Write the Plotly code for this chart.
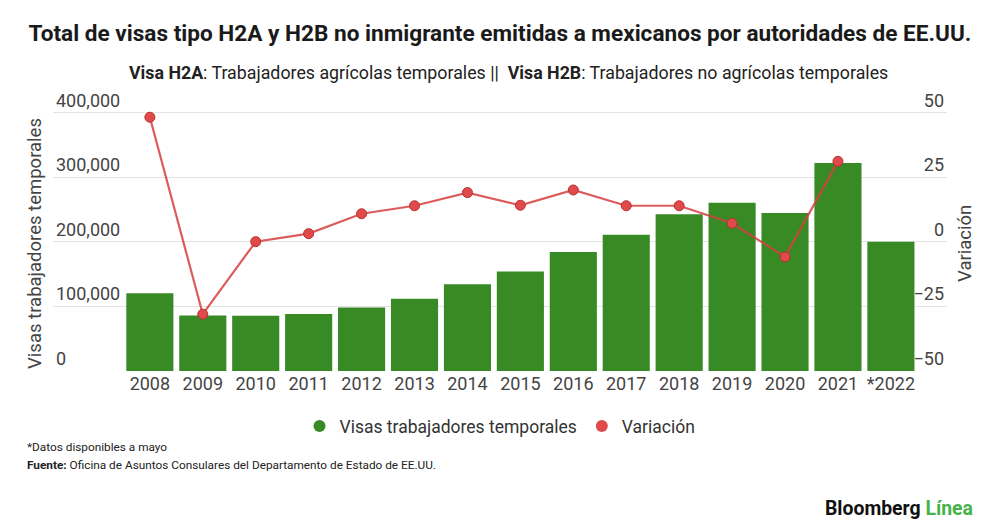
import plotly.graph_objects as go

# datos
years = ["2008", "2009", "2010", "2011", "2012", "2013", "2014", "2015",
         "2016", "2017", "2018", "2019", "2020", "2021", "*2022"]
visas = [120500, 85900, 85500, 88500, 98300, 111800, 134500, 154200,
         184200, 211100, 242700, 260800, 244800, 322400, 200300]
variacion = [48.3, -28.0, 0.1, 3.2, 10.9, 14.0, 19.1, 14.2,
             20.1, 14.0, 14.0, 7.2, -5.8, 31.2, None]

left_ticks = [0, 100000, 200000, 300000, 400000]
left_labels = ["0", "100,000", "200,000", "300,000", "400,000"]
right_ticks = [-50, -25, 0, 25, 50]

GREEN = "#378a24"
RED = "#e04a4a"
FONT = "Roboto, Noto Sans, sans-serif"

# la pagina tiene 8px de margen en el body, se compensa aqui
OFF = 8
W, H = 1000 - OFF, 532 - OFF
# area de trazado (coordenadas de la imagen de referencia)
PL, PR, PTOP, PBOT = 53, 947, 113, 371
EXTRA = 0.1  # espacio extra arriba para que quepa la etiqueta superior
plot_h = (PBOT - PTOP) * (1 + EXTRA)
L = PL - OFF
R = W - (PR - OFF)
B = H - (PBOT - OFF)
T = H - B - plot_h


def px_to_paper(x, y):
    x, y = x - OFF, y - OFF
    return (x - L) / (W - L - R), (H - B - y) / (H - T - B)


fig = go.Figure()

fig.add_trace(go.Bar(
    x=years, y=visas, name="Visas trabajadores temporales",
    marker=dict(color=GREEN, line=dict(width=0)),
    showlegend=False, yaxis="y",
))
fig.add_trace(go.Scatter(
    x=years, y=variacion, name="Variación", mode="lines+markers",
    line=dict(color="rgba(214,64,64,0.85)", width=2.2),
    marker=dict(size=10, color=RED, line=dict(color="#b83030", width=1)),
    showlegend=False, yaxis="y2",
))

# entradas de leyenda con circulos
fig.add_trace(go.Scatter(
    x=[None], y=[None], mode="markers", name="Visas trabajadores temporales",
    marker=dict(size=14, color=GREEN), yaxis="y",
))
fig.add_trace(go.Scatter(
    x=[None], y=[None], mode="markers", name="Variación",
    marker=dict(size=14, color=RED), yaxis="y2",
))

n = len(years)
fig.update_layout(
    width=W, height=H,
    margin=dict(l=L, r=R, t=T, b=B, autoexpand=False),
    paper_bgcolor="white", plot_bgcolor="white",
    font=dict(family=FONT, color="#333333"),
    bargap=0.11,
    title=dict(
        text="<b>Total de visas tipo H2A y H2B no inmigrante emitidas a mexicanos por autoridades de EE.UU.</b>",
        x=(500 - OFF) / W, xanchor="center", y=1 - (33 - OFF) / H, yanchor="middle",
        font=dict(size=22.6, color="#1a1a1a", family=FONT),
    ),
    xaxis=dict(
        type="category", range=[-1.83, n - 1 + 1.06],
        showgrid=False, showline=False, ticks="", zeroline=False,
        tickfont=dict(size=18, color="#444444"),
        fixedrange=True,
    ),
    yaxis=dict(
        range=[0, 400000 * (1 + EXTRA)], tickvals=left_ticks, ticktext=left_labels,
        ticklabelposition="inside top", showgrid=True, gridcolor="#e3e3e3",
        gridwidth=1, zeroline=False, showline=False, ticks="",
        tickfont=dict(size=18, color="#444444"),
    ),
    yaxis2=dict(
        range=[-50, 50 + 100 * EXTRA], tickvals=right_ticks, overlaying="y",
        side="right", ticklabelposition="inside top", showgrid=False,
        zeroline=False, showline=False, ticks="",
        tickfont=dict(size=18, color="#444444"),
    ),
    legend=dict(
        orientation="h", x=px_to_paper(500, 0)[0], xanchor="center",
        y=px_to_paper(0, 426)[1], yanchor="middle",
        font=dict(size=17.5, color="#333333"), itemsizing="constant",
        itemwidth=30, tracegroupgap=0,
    ),
)

_, sy = px_to_paper(0, 73)
cx, _ = px_to_paper(508, 0)
fx, fy1 = px_to_paper(25, 447)
_, fy2 = px_to_paper(25, 465)
lx, ly = px_to_paper(975, 508)
tlx, tly = px_to_paper(35, 244)
trx, _ = px_to_paper(965, 244)

# titulos de los ejes
fig.add_annotation(
    text="Visas trabajadores temporales", textangle=-90,
    xref="paper", yref="paper", x=tlx, y=tly, xanchor="center", yanchor="middle",
    showarrow=False, font=dict(size=18.5, color="#444444"),
)
fig.add_annotation(
    text="Variación", textangle=-90,
    xref="paper", yref="paper", x=trx, y=tly, xanchor="center", yanchor="middle",
    showarrow=False, font=dict(size=18.5, color="#444444"),
)

fig.add_annotation(
    text="<b>Visa H2A</b>: Trabajadores agrícolas temporales ||  <b>Visa H2B</b>: Trabajadores no agrícolas temporales",
    xref="paper", yref="paper", x=cx, y=sy, xanchor="center", yanchor="middle",
    showarrow=False, font=dict(size=17.8, color="#222222"),
)
fig.add_annotation(
    text="*Datos disponibles a mayo",
    xref="paper", yref="paper", x=fx, y=fy1, xanchor="left", yanchor="middle",
    showarrow=False, font=dict(size=11.8, color="#222222"),
)
fig.add_annotation(
    text="<b>Fuente:</b> Oficina de Asuntos Consulares del Departamento de Estado de EE.UU.",
    xref="paper", yref="paper", x=fx, y=fy2, xanchor="left", yanchor="middle",
    showarrow=False, font=dict(size=11.8, color="#222222"),
)
fig.add_annotation(
    text="<b>Bloomberg</b> <b><span style='color:#45b34a'>Línea</span></b>",
    xref="paper", yref="paper", x=lx, y=ly, xanchor="right", yanchor="middle",
    showarrow=False, font=dict(size=19.4, color="#111111"),
)

fig.write_html("out.html")
